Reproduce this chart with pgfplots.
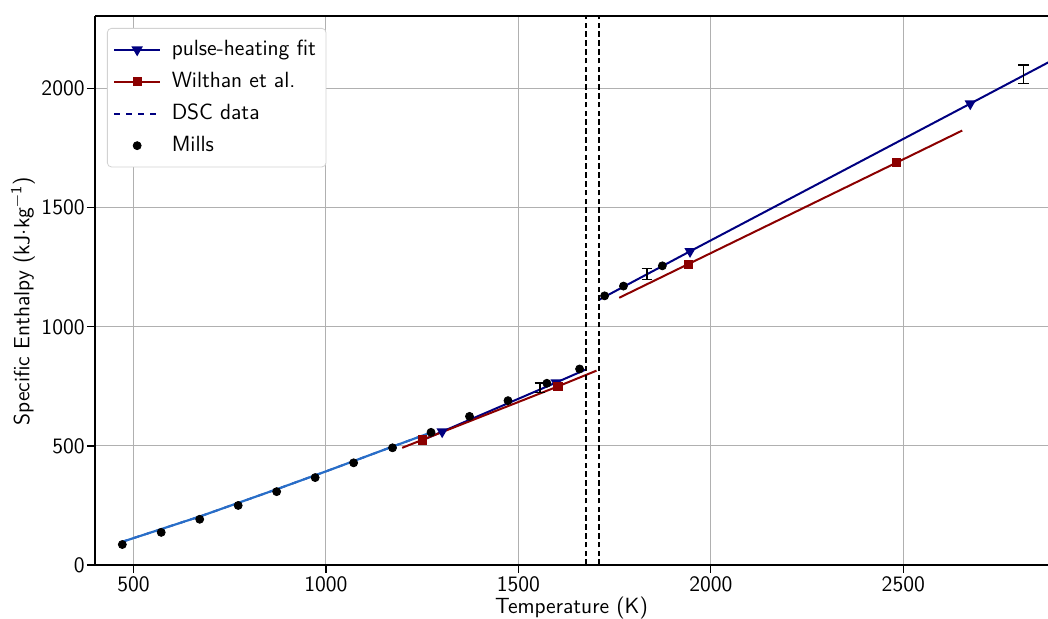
\documentclass[border=0pt]{standalone}
\usepackage{fontspec}
\renewcommand{\familydefault}{\sfdefault}
\usepackage{pgfplots}
\pgfplotsset{compat=1.18}
\definecolor{fitnavy}{RGB}{0,0,128}
\definecolor{wdred}{RGB}{139,0,0}
\definecolor{dscblue}{RGB}{40,110,200}
\definecolor{gridgray}{RGB}{176,176,176}
\begin{document}
\fontsize{11}{13}\selectfont
\begin{tikzpicture}
\begin{axis}[
  scale only axis,
  width=476.5pt, height=274.5pt,
  xmin=400, xmax=2876, ymin=0, ymax=2305,
  axis lines*=left,
  axis line style={line width=0.6pt, -},
  xtick={500,1000,1500,2000,2500},
  ytick={0,500,1000,1500,2000},
  tick align=outside,
  major tick length=4pt,
  tick style={black, line width=0.6pt},
  grid=major,
  major grid style={gridgray, line width=0.55pt},
  /pgf/number format/assume math mode=true,
  /pgf/number format/set thousands separator={},
  ticklabel style={font=\fontsize{11}{13}\selectfont},
  yticklabel style={inner xsep=1pt},
  xticklabel style={inner ysep=1.5pt},
  xlabel={Temperature (K)},
  ylabel={Specific Enthalpy (kJ$\cdot$kg\textsuperscript{−1})},
  label style={font=\fontsize{11}{13}\selectfont},
  every axis x label/.style={at={(rel axis cs:0.5,0)}, yshift=-21.5pt, anchor=center},
  every axis y label/.style={at={(rel axis cs:0,0.5)}, xshift=-36pt, yshift=-5.5pt, rotate=90, anchor=center},
  clip=true,
  legend cell align=left,
  legend image code/.code={\draw[#1, mark indices={2}] plot coordinates {(0cm,0cm) (0.4cm,0cm) (0.8cm,0cm)}; \path (0.92cm,0cm);},
  legend style={at={(rel axis cs:0,1)}, anchor=north west, xshift=6pt, yshift=-6pt,
    draw=gray!35, rounded corners=2pt, fill=white,
    font=\fontsize{11}{13}\selectfont, row sep=2.6pt, inner xsep=3pt, inner ysep=4pt},
]
\coordinate (SW) at (rel axis cs:0,0);
\coordinate (NE) at (rel axis cs:1,1);

% pulse-heating fit (solid part 1)
\addplot[fitnavy, line width=1pt, mark=triangle*, mark size=2.3pt, mark options={rotate=180, solid}, mark indices={2,3}]
  coordinates {(1252,525) (1302,560) (1598,766) (1677,822)};
\addlegendentry{pulse-heating fit}
% Wilthan
\addplot[wdred, line width=1pt, mark=square*, mark size=1.8pt, mark options={solid}, mark indices={2,3}]
  coordinates {(1198,492) (1250,525) (1603,750) (1703,816)};
\addlegendentry{Wilthan et al.}
% DSC data
\addplot[fitnavy, line width=0.9pt, dashed]
  coordinates {(470,97) (673,204) (872,318) (1000,393) (1173,497) (1271,555)};
\addlegendentry{DSC data}
\addplot[dscblue, line width=1.1pt, forget plot]
  coordinates {(470,97) (673,204) (872,318) (1000,393) (1173,497) (1271,555)};
% liquid parts
\addplot[fitnavy, line width=1pt, mark=triangle*, mark size=2.3pt, mark options={rotate=180, solid}, mark indices={2,3}, forget plot]
  coordinates {(1709,1113) (1946,1317) (2674,1937) (2900,2130)};
\addplot[wdred, line width=1pt, mark=square*, mark size=1.8pt, mark options={solid}, mark indices={2,3}, forget plot]
  coordinates {(1762,1122) (1941,1263) (2482,1689) (2653,1824)};
% vertical dashed lines
\addplot[black, line width=0.9pt, dash pattern=on 2.8pt off 1.6pt, forget plot] coordinates {(1675,0) (1675,2305)};
\addplot[black, line width=0.9pt, dash pattern=on 2.8pt off 1.6pt, forget plot] coordinates {(1709,0) (1709,2305)};
% error bars
\addplot[black, draw=none, mark=none, forget plot,
  error bars/.cd, y dir=both, y explicit,
  error bar style={black, line width=0.8pt},
  error mark options={rotate=90, black, mark size=2.6pt, line width=0.8pt}]
  coordinates {(1556,745) +- (0,20) (1834,1221) +- (0,23) (2812,2061) +- (0,39)};
% Mills
\addplot[only marks, black, mark=*, mark size=2pt]
  coordinates {(471,86) (572,137) (672,192) (772,250) (872,308) (972,367) (1072,429) (1173,492)
   (1273,557) (1373,624) (1473,690) (1574,763) (1659,823) (1724,1130) (1773,1171) (1874,1256)};
\addlegendentry{Mills}
\end{axis}
\draw[line width=0.6pt] (SW |- NE) -- (NE);
\pgfresetboundingbox
\path ([xshift=-47.5pt,yshift=-27pt]SW) rectangle ([yshift=8pt]NE);
\end{tikzpicture}
\end{document}
